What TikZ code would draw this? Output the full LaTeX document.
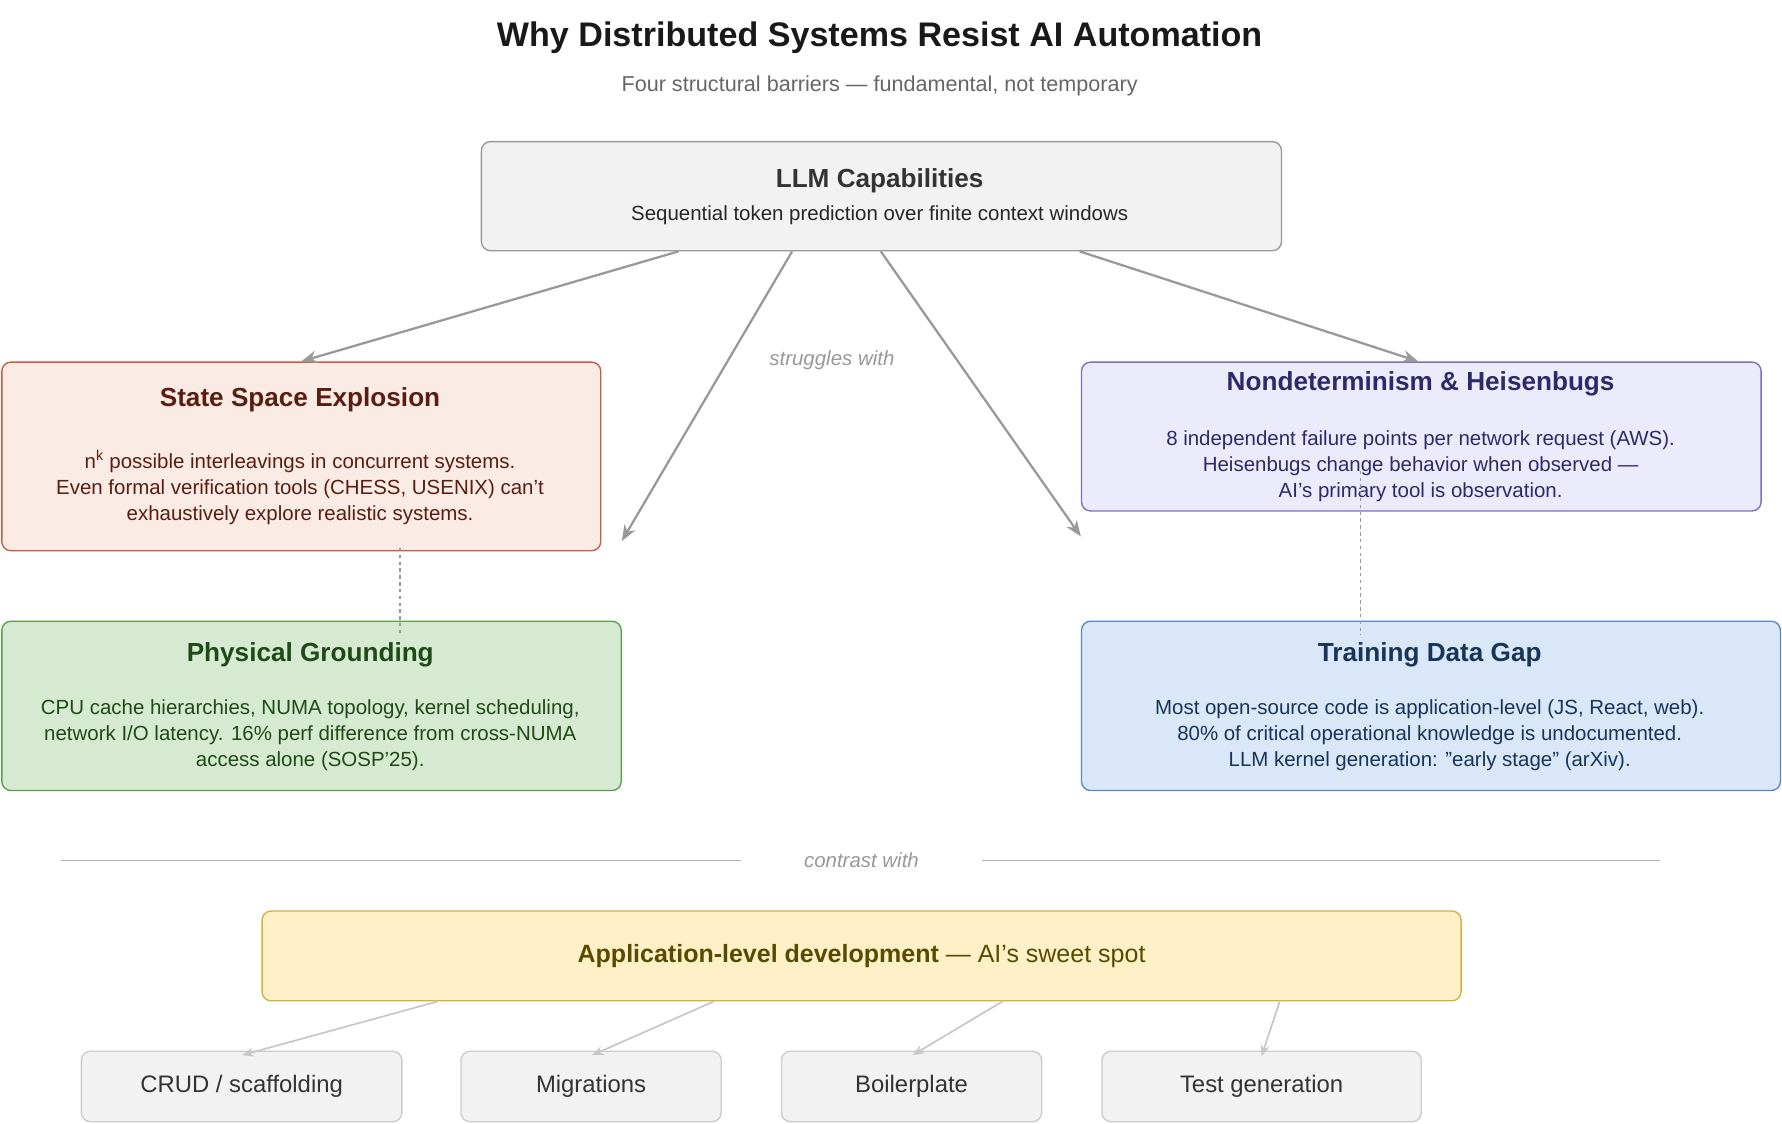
\documentclass[tikz,border=0pt]{standalone}
\usepackage{fontspec}
\setmainfont{Liberation Sans}
\usetikzlibrary{arrows.meta}
\definecolor{txtgray}{HTML}{333333}
\definecolor{arrgray}{HTML}{999999}
\definecolor{stfill}{HTML}{FAEBE5}\definecolor{stdraw}{HTML}{CC5A44}\definecolor{sttext}{HTML}{5A1E10}
\definecolor{ndfill}{HTML}{ECEBFB}\definecolor{nddraw}{HTML}{7A6FC0}\definecolor{ndtext}{HTML}{2E2A6A}
\definecolor{phfill}{HTML}{D6EAD2}\definecolor{phdraw}{HTML}{5AA04A}\definecolor{phtext}{HTML}{1E4A15}
\definecolor{trfill}{HTML}{D9E7F8}\definecolor{trdraw}{HTML}{5A88C8}\definecolor{trtext}{HTML}{173556}
\definecolor{apfill}{HTML}{FFF0C8}\definecolor{apdraw}{HTML}{D4B040}\definecolor{aptext}{HTML}{5A4A00}
\tikzset{
  box/.style={draw, rounded corners=8pt, line width=1.2pt, anchor=north west, inner sep=0pt},
  ttl/.style={font=\fontsize{23}{27}\selectfont\bfseries},
  body/.style={font=\fontsize{18}{23}\selectfont, align=center},
  tag/.style={font=\fontsize{18}{22}\selectfont\itshape, text=arrgray},
  leaf/.style={box, draw=black!20, fill=black!5, minimum height=62pt, font=\fontsize{21}{25}\selectfont, text=txtgray, anchor=west},
  bigarr/.style={draw=arrgray, line width=2pt, -{Stealth[length=14pt,width=11pt]}},
  smallarr/.style={draw=black!22, line width=1.5pt, -{Stealth[length=10pt,width=8pt]}}
}
\begin{document}
\begin{tikzpicture}[x=1pt,y=-1pt]
\useasboundingbox[fill=white] (0,0) rectangle (1568,989);
% heading
\node (title) at (774,33) {\fontsize{30}{34}\selectfont\bfseries\color{black!90} Why Distributed Systems Resist AI Automation};
\node (sub) at (774,76) {\fontsize{19}{23}\selectfont\color{black!60} Four structural barriers — fundamental, not temporary};
% boxes
\node (llm) [box, draw=arrgray, fill=black!5, minimum width=704pt, minimum height=96pt] at (423,124) {};
\node at (774,159) [ttl, text=txtgray] {LLM Capabilities};
\node at (774,189) [body, text=black!85] {Sequential token prediction over finite context windows};
\node (state) [box, draw=stdraw, fill=stfill, minimum width=527pt, minimum height=166pt] at (1,318) {};
\node at (264,352) [ttl, text=sttext] {State Space Explosion};
\node at (264,429) [body, text=sttext] {n\textsuperscript{k} possible interleavings in concurrent systems.\\Even formal verification tools (CHESS, USENIX) can't\\exhaustively explore realistic systems.};
\node (nondet) [box, draw=nddraw, fill=ndfill, minimum width=598pt, minimum height=131pt] at (951,318) {};
\node at (1250,338) [ttl, text=ndtext] {Nondeterminism \& Heisenbugs};
\node at (1250,410) [body, text=ndtext] {8 independent failure points per network request (AWS).\\Heisenbugs change behavior when observed —\\AI's primary tool is observation.};
\node (phys) [box, draw=phdraw, fill=phfill, minimum width=545pt, minimum height=149pt] at (1,546) {};
\node at (273,576) [ttl, text=phtext] {Physical Grounding};
\node at (273,647) [body, text=phtext] {CPU cache hierarchies, NUMA topology, kernel scheduling,\\network I/O latency. 16\% perf difference from cross-NUMA\\access alone (SOSP'25).};
\node (train) [box, draw=trdraw, fill=trfill, minimum width=615pt, minimum height=149pt] at (951,546) {};
\node at (1258,576) [ttl, text=trtext] {Training Data Gap};
\node at (1258,647) [body, text=trtext] {Most open-source code is application-level (JS, React, web).\\80\% of critical operational knowledge is undocumented.\\LLM kernel generation: "early stage" (arXiv).};
% arrows
\draw[bigarr] ([xshift=174pt]llm.south west) -- ([xshift=264pt]state.north west);
\draw[bigarr] ([xshift=274pt]llm.south west) -- ([yshift=70pt]phys.north east);
\draw[bigarr] ([xshift=352pt]llm.south west) -- ([yshift=74pt]train.north west);
\draw[bigarr] ([xshift=527pt]llm.south west) -- ([xshift=297pt]nondet.north west);
\node (struggle) at (732,317) [tag] {struggles with};
\draw[arrgray, dashed, line width=1pt] ([xshift=351pt,yshift=3pt]state.south west) -- ([xshift=351pt,yshift=-13pt]phys.north west);
\draw[arrgray, dashed, line width=1pt] ([xshift=246pt,yshift=36pt]nondet.south west) -- ([xshift=246pt,yshift=-13pt]train.north west);
% contrast
\node (contrast) at (758,757) [tag] {contrast with};
\coordinate (sepL) at (54,757); \coordinate (sepR) at (1461,757);
\draw[black!30, line width=1pt] (sepL) -- ([xshift=-52pt]contrast.west) ([xshift=52pt]contrast.east) -- (sepR);
\node (app) [box, draw=apdraw, fill=apfill, minimum width=1055pt, minimum height=79pt] at (230,801) {};
\node at (app.center) {\fontsize{22}{26}\selectfont\color{aptext}\textbf{Application-level development} — AI's sweet spot};
% leaves
\node (crud) [leaf, minimum width=282pt] at (71,956) {};
\node at (crud.center) [font=\fontsize{21}{25}\selectfont, text=txtgray] {CRUD / scaffolding};
\node (migr) [leaf, minimum width=229pt] at (405,956) {};
\node at (migr.center) [font=\fontsize{21}{25}\selectfont, text=txtgray] {Migrations};
\node (boil) [leaf, minimum width=229pt] at (687,956) {};
\node at (boil.center) [font=\fontsize{21}{25}\selectfont, text=txtgray] {Boilerplate};
\node (test) [leaf, minimum width=281pt] at (969,956) {};
\node at (test.center) [font=\fontsize{21}{25}\selectfont, text=txtgray] {Test generation};
\draw[smallarr] ([xshift=155pt]app.south west) -- ([xshift=142pt,yshift=-4pt]crud.north west);
\draw[smallarr] ([xshift=398pt]app.south west) -- ([xshift=116pt,yshift=-4pt]migr.north west);
\draw[smallarr] ([xshift=652pt]app.south west) -- ([xshift=116pt,yshift=-4pt]boil.north west);
\draw[smallarr] ([xshift=896pt]app.south west) -- ([xshift=141pt,yshift=-5pt]test.north west);
\end{tikzpicture}
\end{document}
